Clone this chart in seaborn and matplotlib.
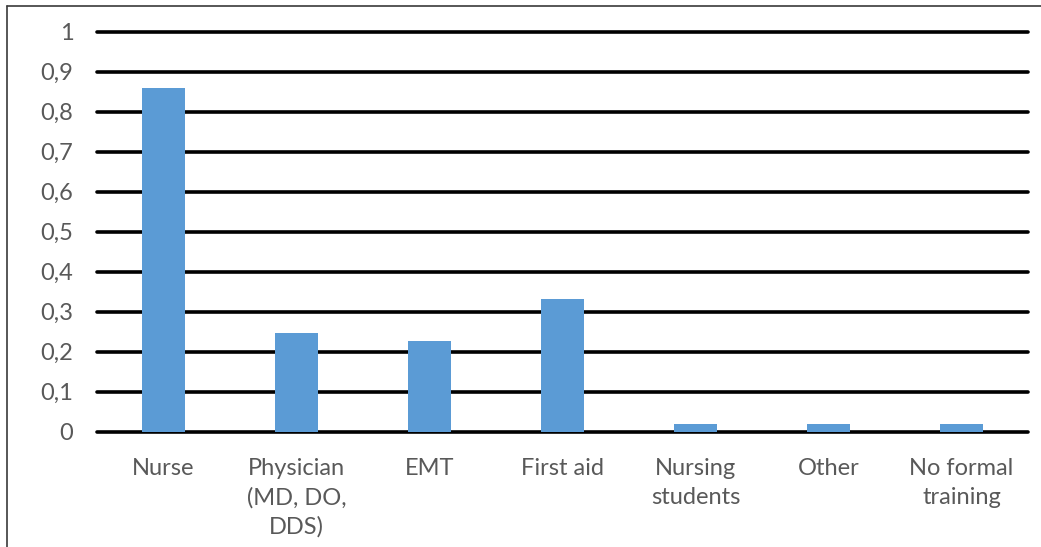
import matplotlib
matplotlib.use("Agg")
import matplotlib.pyplot as plt
from matplotlib.lines import Line2D
import seaborn as sns
import pandas as pd

categories = ["Nurse", "Physician\n(MD, DO,\nDDS)", "EMT", "First aid",
              "Nursing\nstudents", "Other", "No formal\ntraining"]
values = [0.86, 0.246, 0.227, 0.332, 0.018, 0.020, 0.020]
y_ticks = [0, 0.1, 0.2, 0.3, 0.4, 0.5, 0.6, 0.7, 0.8, 0.9, 1.0]
y_tick_labels = ["0", "0,1", "0,2", "0,3", "0,4", "0,5", "0,6", "0,7", "0,8", "0,9", "1"]

sns.set_theme(style="white")
plt.rcParams["font.family"] = ["Lato", "DejaVu Sans"]

W, H = 1041, 547
fig = plt.figure(figsize=(W / 100, H / 100), dpi=100)
fig.patch.set_facecolor("white")

left, right = 97, 1028
y0, y1 = 431.5, 31.5
ax = fig.add_axes([left / W, 1 - y0 / H, (right - left) / W, (y0 - y1) / H])

df = pd.DataFrame({"category": categories, "value": values})
sns.barplot(data=df, x="category", y="value", color="#5B9BD5", saturation=1,
            width=0.32, linewidth=0, ax=ax, zorder=3)

ax.set_ylim(0, 1)
ax.set_xlim(-0.5, len(categories) - 0.5)
ax.set_yticks(y_ticks)
ax.set_yticklabels(y_tick_labels)
ax.set_xlabel("")
ax.set_ylabel("")

ax.grid(axis="y", color="black", linewidth=2.6, zorder=1)
ax.set_axisbelow(True)
for gl in ax.get_ygridlines():
    gl.set_clip_on(False)
for s in ax.spines.values():
    s.set_visible(False)

ax.tick_params(axis="y", length=0, pad=17, labelsize=17, labelcolor="#595959")
ax.tick_params(axis="x", length=0, pad=19, labelsize=17, labelcolor="#595959")
for t in ax.get_xticklabels():
    t.set_linespacing(1.45)
    t.set_verticalalignment("top")

# outer frame (left and top edges)
fig.add_artist(Line2D([6.5 / W, 6.5 / W], [0, 1 - 5.5 / H], transform=fig.transFigure,
                      color="#3a3a3a", linewidth=1.2))
fig.add_artist(Line2D([6.5 / W, 1], [1 - 5.5 / H, 1 - 5.5 / H], transform=fig.transFigure,
                      color="#3a3a3a", linewidth=1.2))

fig.savefig("out.png", dpi=100)
